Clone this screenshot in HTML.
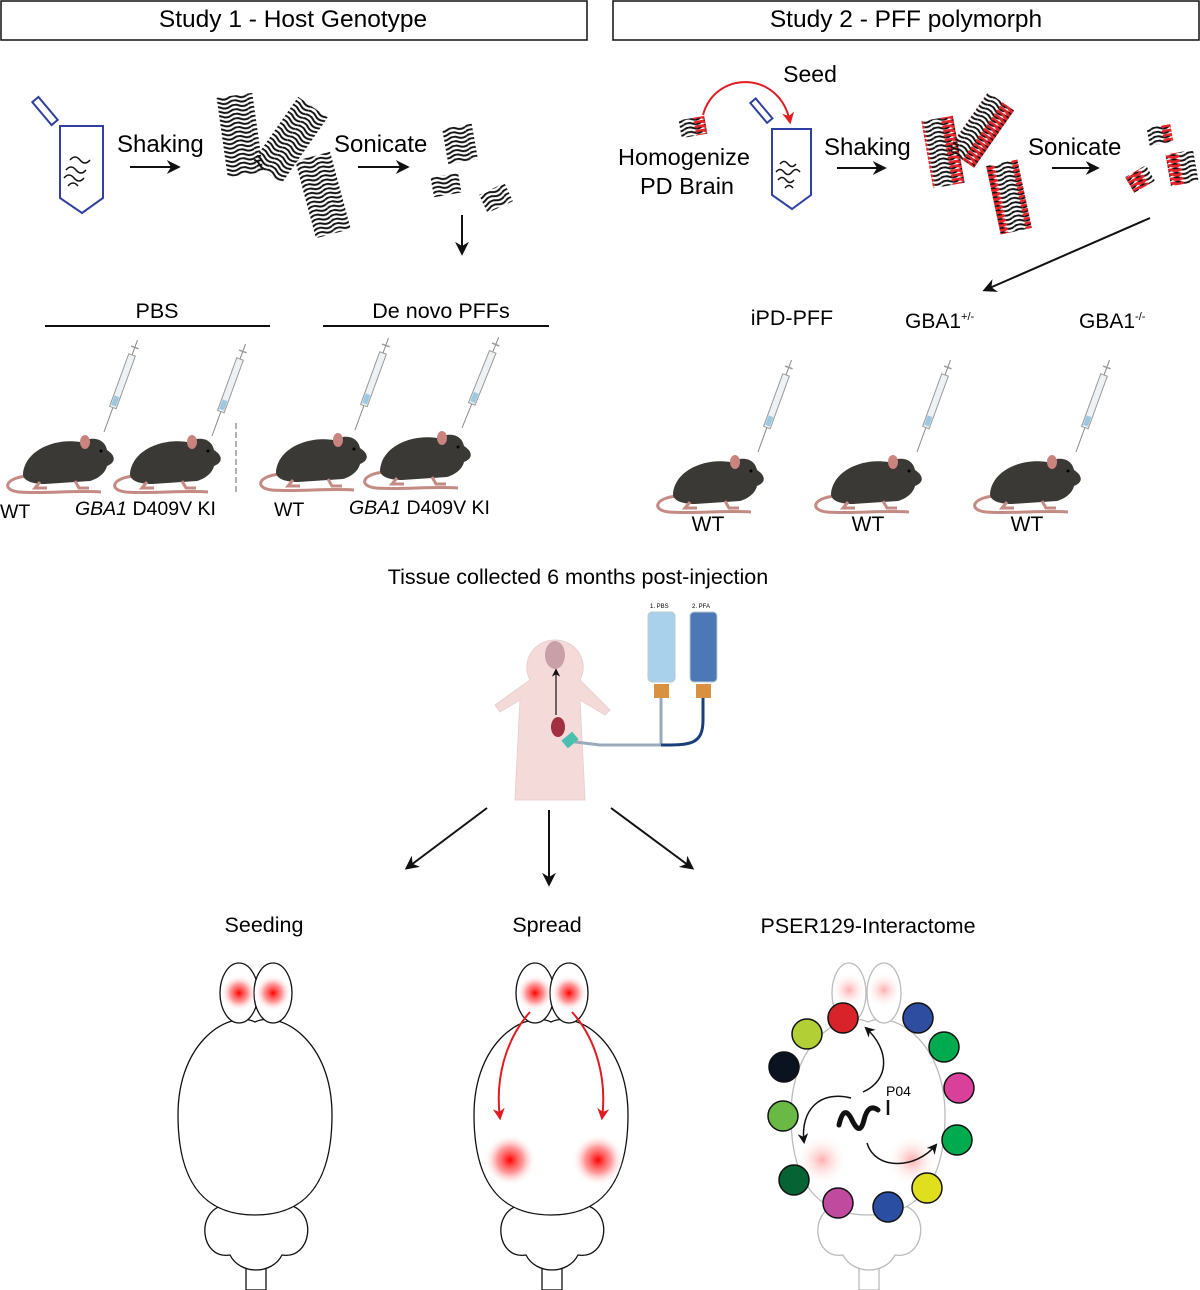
<!DOCTYPE html>
<html><head><meta charset="utf-8"><style>
body{margin:0;background:#fff;}
svg{display:block;font-family:"Liberation Sans",sans-serif;}
</style></head><body>
<svg width="1200" height="1290" viewBox="0 0 1200 1290" xmlns="http://www.w3.org/2000/svg">
<defs>
<pattern id="stripe" width="36" height="4.5" patternUnits="userSpaceOnUse">
<path d="M0 2 q4.5 -2.5 9 0 t9 0 t9 0 t9 0" stroke="#111" stroke-width="2" fill="none"/>
</pattern>
<pattern id="stripeR" width="36" height="4.5" patternUnits="userSpaceOnUse">
<path d="M0 2 q4.5 -2.5 9 0 t9 0 t9 0 t9 0" stroke="#111" stroke-width="2" fill="none"/>
<path d="M11 2 q4.5 -2.5 9 0 t9 0" stroke="#e8242b" stroke-width="3" fill="none"/>
</pattern>
<marker id="ah" viewBox="0 0 10 10" refX="8" refY="5" markerWidth="7" markerHeight="7" orient="auto"><path d="M0 0L10 5L0 10L3 5z" fill="#111"/></marker>
<marker id="ahr" viewBox="0 0 10 10" refX="8" refY="5" markerWidth="6" markerHeight="6" orient="auto"><path d="M0 0L10 5L0 10L3 5z" fill="#e01b22"/></marker>
<radialGradient id="glow"><stop offset="0" stop-color="#f00"/><stop offset="0.5" stop-color="#f55" stop-opacity="0.6"/><stop offset="1" stop-color="#fff" stop-opacity="0"/></radialGradient>
<radialGradient id="glowL"><stop offset="0" stop-color="#f77" stop-opacity="0.6"/><stop offset="1" stop-color="#fff" stop-opacity="0"/></radialGradient>
<g id="mouse">
<path d="M22 44 C0 46 -4 58 14 60 C40 62 70 58 96 60" stroke="#c48b84" stroke-width="3" fill="none"/>
<path d="M18 42 C20 18 50 6 75 10 C90 3 100 8 102 18 C110 23 112 30 102 34 C100 42 92 47 85 49 L40 52 C28 52 18 49 18 42z" fill="#3b3936"/>
<ellipse cx="80" cy="10" rx="5" ry="7" fill="#c9847f"/>
<path d="M35 50 l-5 6 h12 M70 49 l4 7 h10" stroke="#c48b84" stroke-width="3" fill="none"/>
<circle cx="96" cy="19" r="1.5" fill="#000"/>
</g>
<g id="syr">
<line x1="0" y1="0" x2="0" y2="-98" stroke="#888" stroke-width="1"/>
<rect x="-3.5" y="-82" width="7" height="56" fill="#eef2f5" stroke="#999" stroke-width="1"/>
<rect x="-2.5" y="-38" width="5" height="10" fill="#9cc8e0"/>
<line x1="-4" y1="-90" x2="4" y2="-90" stroke="#999" stroke-width="1.5"/>
</g>
</defs>

<rect x="1" y="1" width="586" height="39" fill="none" stroke="#111" stroke-width="1.5"/>
<text x="293" y="27" font-size="24.5" text-anchor="middle">Study 1 - Host Genotype</text>
<rect x="613" y="1" width="586" height="39" fill="none" stroke="#111" stroke-width="1.5"/>
<text x="906" y="27" font-size="24.5" text-anchor="middle">Study 2 - PFF polymorph</text>

<path d="M60 126 h43 v72 l-21 15 l-22 -15z" fill="none" stroke="#3040a0" stroke-width="2"/>
<rect x="41" y="96" width="8" height="30" fill="none" stroke="#3040a0" stroke-width="2" transform="rotate(-40 45 111)"/>
<path d="M66 170 q5 -6 10 0 t10 0 M64 178 q5 -6 10 0 t10 0 M70 160 q5 -6 10 0 t10 0 M68 186 q5 -6 10 0" stroke="#111" stroke-width="1.5" fill="none"/>
<text x="117" y="152" font-size="24">Shaking</text>
<line x1="130" y1="167" x2="178" y2="167" stroke="#111" stroke-width="2" marker-end="url(#ah)"/>
<rect x="222" y="95" width="36" height="80" fill="url(#stripe)" transform="rotate(-8 240 135)"/>
<rect x="272" y="100" width="36" height="80" fill="url(#stripe)" transform="rotate(35 290 140)"/>
<rect x="305" y="155" width="36" height="80" fill="url(#stripe)" transform="rotate(-15 323 195)"/>
<text x="334" y="152" font-size="24">Sonicate</text>
<line x1="358" y1="167" x2="407" y2="167" stroke="#111" stroke-width="2" marker-end="url(#ah)"/>
<rect x="445" y="126" width="30" height="36" fill="url(#stripe)" transform="rotate(-10 460 144)"/>
<rect x="432" y="175" width="28" height="20" fill="url(#stripe)" transform="rotate(-10 446 185)"/>
<rect x="482" y="188" width="28" height="20" fill="url(#stripe)" transform="rotate(-25 496 198)"/>
<line x1="462" y1="215" x2="462" y2="253" stroke="#111" stroke-width="2" marker-end="url(#ah)"/>

<text x="157" y="318" font-size="21.5" text-anchor="middle">PBS</text>
<line x1="45" y1="326" x2="270" y2="326" stroke="#111" stroke-width="2"/>
<text x="441" y="318" font-size="21.5" text-anchor="middle">De novo PFFs</text>
<line x1="323" y1="326" x2="549" y2="326" stroke="#111" stroke-width="2"/>
<line x1="236" y1="423" x2="236" y2="495" stroke="#666" stroke-width="1" stroke-dasharray="6 3"/>
<use href="#mouse" x="5" y="432"/><use href="#syr" transform="translate(104 432) rotate(20)"/>
<use href="#mouse" x="112" y="432"/><use href="#syr" transform="translate(212 436) rotate(20)"/>
<use href="#mouse" x="258" y="430"/><use href="#syr" transform="translate(355 430) rotate(20)"/>
<use href="#mouse" x="362" y="428"/><use href="#syr" transform="translate(462 428) rotate(22)"/>
<text x="0" y="518" font-size="19.5">WT</text>
<text x="75" y="515" font-size="19.5"><tspan font-style="italic">GBA1</tspan> D409V KI</text>
<text x="274" y="516" font-size="19.5">WT</text>
<text x="349" y="514" font-size="19.5"><tspan font-style="italic">GBA1</tspan> D409V KI</text>

<text x="810" y="82" font-size="23" text-anchor="middle">Seed</text>
<rect x="680" y="118" width="26" height="18" fill="url(#stripeR)" transform="rotate(-10 693 127)"/>
<path d="M703 115 C715 70 780 70 790 122" stroke="#e01b22" stroke-width="2" fill="none" marker-end="url(#ahr)"/>
<text x="684" y="165" font-size="23.5" text-anchor="middle">Homogenize</text>
<text x="687" y="194" font-size="23.5" text-anchor="middle">PD Brain</text>
<path d="M772 129 h39 v66 l-19 14 l-20 -14z" fill="none" stroke="#3040a0" stroke-width="2"/>
<rect x="758" y="98" width="7" height="26" fill="none" stroke="#3040a0" stroke-width="2" transform="rotate(-40 761 111)"/>
<path d="M776 172 q4 -5 8 0 t8 0 t8 0 M778 180 q4 -5 8 0 t8 0 M780 164 q4 -5 8 0 t8 0 M785 188 q4 -5 8 0" stroke="#111" stroke-width="1.5" fill="none"/>
<text x="824" y="155" font-size="24">Shaking</text>
<line x1="837" y1="168" x2="884" y2="168" stroke="#111" stroke-width="2" marker-end="url(#ah)"/>
<rect x="927" y="118" width="32" height="68" fill="url(#stripeR)" transform="rotate(-10 943 152)"/>
<rect x="965" y="95" width="32" height="70" fill="url(#stripeR)" transform="rotate(35 981 130)"/>
<rect x="993" y="162" width="32" height="70" fill="url(#stripeR)" transform="rotate(-12 1009 197)"/>
<text x="1028" y="155" font-size="24">Sonicate</text>
<line x1="1052" y1="168" x2="1097" y2="168" stroke="#111" stroke-width="2" marker-end="url(#ah)"/>
<rect x="1148" y="126" width="24" height="18" fill="url(#stripeR)" transform="rotate(-10 1160 135)"/>
<rect x="1168" y="152" width="28" height="32" fill="url(#stripeR)" transform="rotate(-10 1182 168)"/>
<rect x="1128" y="170" width="24" height="18" fill="url(#stripeR)" transform="rotate(-30 1140 179)"/>
<line x1="1150" y1="218" x2="985" y2="290" stroke="#111" stroke-width="2" marker-end="url(#ah)"/>

<text x="792" y="325" font-size="21.5" text-anchor="middle">iPD-PFF</text>
<text x="905" y="328" font-size="21">GBA1<tspan font-size="11" dy="-8">+/-</tspan></text>
<text x="1079" y="328" font-size="21">GBA1<tspan font-size="11" dy="-8">-/-</tspan></text>
<use href="#mouse" x="655" y="452"/><use href="#syr" transform="translate(758 452) rotate(20)"/>
<use href="#mouse" x="813" y="452"/><use href="#syr" transform="translate(917 452) rotate(20)"/>
<use href="#mouse" x="972" y="452"/><use href="#syr" transform="translate(1076 452) rotate(20)"/>
<text x="708" y="531" font-size="21" text-anchor="middle">WT</text>
<text x="868" y="531" font-size="21" text-anchor="middle">WT</text>
<text x="1027" y="531" font-size="21" text-anchor="middle">WT</text>

<text x="578" y="584" font-size="21.5" text-anchor="middle">Tissue collected 6 months post-injection</text>
<g>
<path d="M530 680 C520 660 535 640 555 640 C575 640 590 660 580 680 L610 710 L605 715 L580 700 L585 800 L515 800 L520 700 L500 712 L495 705z" fill="#f5dada" stroke="#e8d0d0"/>
<ellipse cx="555" cy="655" rx="10" ry="14" fill="#c8a0a8"/>
<ellipse cx="558" cy="727" rx="7" ry="10" fill="#a23040"/>
<line x1="556" y1="715" x2="556" y2="670" stroke="#111" stroke-width="1.2" marker-end="url(#ah)"/>
<rect x="648" y="612" width="27" height="70" rx="4" fill="#a9d1ec" stroke="#bcc"/>
<rect x="690" y="612" width="27" height="70" rx="4" fill="#4c78b8" stroke="#bcc"/>
<rect x="654" y="684" width="15" height="14" fill="#d99040"/>
<rect x="696" y="684" width="15" height="14" fill="#d99040"/>
<text x="650" y="608" font-size="6">1. PBS</text><text x="692" y="608" font-size="6">2. PFA</text>
<path d="M661 698 V745 H600 L575 742" stroke="#9ab" stroke-width="3" fill="none"/>
<path d="M703 698 V720 C703 745 690 745 661 745" stroke="#1b3f7a" stroke-width="3" fill="none"/>
<rect x="563" y="735" width="14" height="10" fill="#4bbfb0" transform="rotate(-40 570 740)"/>
</g>
<line x1="487" y1="808" x2="407" y2="868" stroke="#111" stroke-width="2" marker-end="url(#ah)"/>
<line x1="549" y1="810" x2="549" y2="884" stroke="#111" stroke-width="2" marker-end="url(#ah)"/>
<line x1="611" y1="808" x2="692" y2="868" stroke="#111" stroke-width="2" marker-end="url(#ah)"/>

<text x="264" y="932" font-size="21.5" text-anchor="middle">Seeding</text>
<text x="547" y="932" font-size="21.5" text-anchor="middle">Spread</text>
<text x="868" y="933" font-size="21.5" text-anchor="middle">PSER129-Interactome</text>

<g fill="#fff" stroke="#111" stroke-width="1.3">
<rect x="246" y="1262" width="20" height="28"/>
<path d="M225 1205 C195 1210 200 1260 230 1255 C240 1275 272 1275 282 1255 C312 1260 318 1210 288 1205z"/>
<path d="M255 1022 C230 1010 178 1040 178 1115 C178 1190 210 1215 255 1215 C300 1215 332 1190 332 1115 C332 1040 280 1010 255 1022z"/>
<ellipse cx="239" cy="993" rx="19" ry="30"/>
<ellipse cx="273" cy="993" rx="19" ry="30"/>
</g>
<circle cx="239" cy="993" r="18" fill="url(#glow)"/>
<circle cx="273" cy="993" r="18" fill="url(#glow)"/>

<g fill="#fff" stroke="#111" stroke-width="1.3" transform="translate(296 0)">
<rect x="246" y="1262" width="20" height="28"/>
<path d="M225 1205 C195 1210 200 1260 230 1255 C240 1275 272 1275 282 1255 C312 1260 318 1210 288 1205z"/>
<path d="M255 1022 C230 1010 178 1040 178 1115 C178 1190 210 1215 255 1215 C300 1215 332 1190 332 1115 C332 1040 280 1010 255 1022z"/>
<ellipse cx="239" cy="993" rx="19" ry="30"/>
<ellipse cx="273" cy="993" rx="19" ry="30"/>
</g>
<circle cx="535" cy="993" r="18" fill="url(#glow)"/>
<circle cx="569" cy="993" r="18" fill="url(#glow)"/>
<circle cx="510" cy="1160" r="26" fill="url(#glow)"/>
<circle cx="598" cy="1160" r="26" fill="url(#glow)"/>
<path d="M530 1012 C505 1040 495 1080 500 1118" stroke="#e01b22" stroke-width="2" fill="none" marker-end="url(#ahr)"/>
<path d="M572 1012 C597 1040 607 1080 602 1118" stroke="#e01b22" stroke-width="2" fill="none" marker-end="url(#ahr)"/>

<g fill="#fff" stroke="#bbb" stroke-width="1.3" transform="translate(613 0)">
<rect x="246" y="1262" width="20" height="28"/>
<path d="M225 1205 C195 1210 200 1260 230 1255 C240 1275 272 1275 282 1255 C312 1260 318 1210 288 1205z"/>
<path d="M255 1022 C230 1010 178 1040 178 1115 C178 1190 210 1215 255 1215 C300 1215 332 1190 332 1115 C332 1040 280 1010 255 1022z"/>
<ellipse cx="236" cy="993" rx="17" ry="30"/>
<ellipse cx="271" cy="993" rx="17" ry="30"/>
</g>
<circle cx="849" cy="990" r="18" fill="url(#glowL)"/>
<circle cx="884" cy="990" r="18" fill="url(#glowL)"/>
<circle cx="822" cy="1160" r="26" fill="url(#glowL)"/>
<circle cx="912" cy="1160" r="26" fill="url(#glowL)"/>
<g stroke="#111" stroke-width="1.5">
<circle cx="843" cy="1018" r="15" fill="#d8232a"/>
<circle cx="807" cy="1034" r="15" fill="#b2cf35"/>
<circle cx="784" cy="1067" r="15" fill="#0b1220"/>
<circle cx="783" cy="1116" r="15" fill="#6bb945"/>
<circle cx="794" cy="1180" r="15" fill="#066334"/>
<circle cx="838" cy="1203" r="15" fill="#c04a9e"/>
<circle cx="888" cy="1207" r="15" fill="#2a4ea1"/>
<circle cx="927" cy="1188" r="15" fill="#e0df1e"/>
<circle cx="957" cy="1140" r="15" fill="#00aa4f"/>
<circle cx="959" cy="1088" r="15" fill="#d9409a"/>
<circle cx="944" cy="1047" r="15" fill="#00aa4f"/>
<circle cx="918" cy="1018" r="15" fill="#2e4da0"/>
</g>
<path d="M839 1125 q5 -22 13 -5 t12 0 t14 -10" stroke="#111" stroke-width="5" fill="none" stroke-linecap="round"/>
<line x1="888" y1="1115" x2="888" y2="1100" stroke="#111" stroke-width="2.5"/>
<text x="886" y="1096" font-size="14">P04</text>
<path d="M863 1092 C890 1080 890 1050 866 1028" stroke="#111" stroke-width="1.5" fill="none" marker-end="url(#ah)"/>
<path d="M851 1098 C820 1090 800 1110 804 1142" stroke="#111" stroke-width="1.5" fill="none" marker-end="url(#ah)"/>
<path d="M867 1143 C875 1170 915 1170 936 1145" stroke="#111" stroke-width="1.5" fill="none" marker-end="url(#ah)"/>
</svg>
</body></html>
